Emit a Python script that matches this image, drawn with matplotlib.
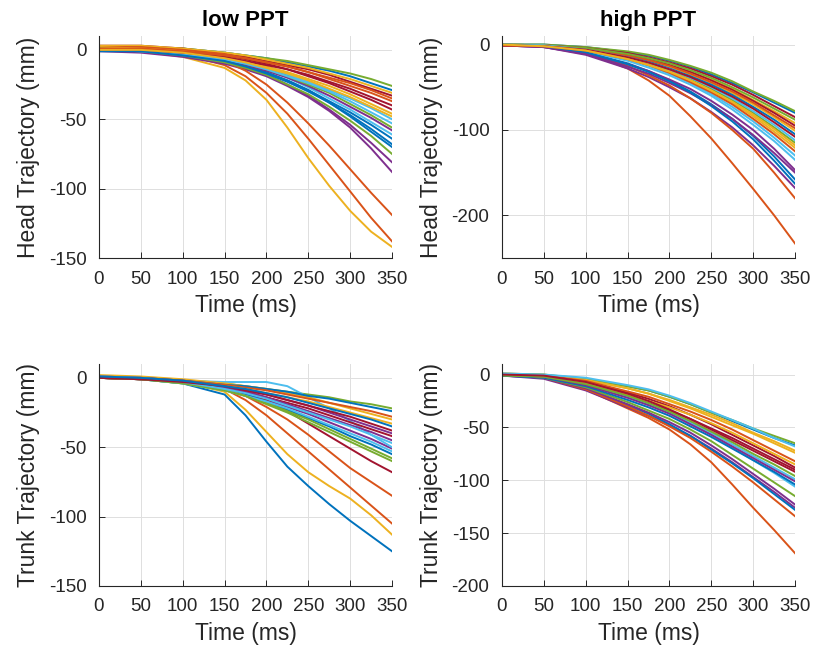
#!/usr/bin/env python3
"""Head and trunk trajectories for low and high PPT trials (2x2 panel figure)."""

import matplotlib

matplotlib.use("Agg")
import matplotlib.pyplot as plt
from cycler import cycler

# MATLAB default line colour order
LINE_COLORS = ["#0072BD", "#D95319", "#EDB120", "#7E2F8E", "#77AC30", "#4DBEEE", "#A2142F"]
TEXT_COLOR = "#262626"

TIME_MS = [0, 50, 100, 150, 175, 200, 225, 250, 275, 300, 325, 350]

# one row per trial, values in mm at TIME_MS
HEAD_LOW = [
    [2, 2, 1, -2, -4, -6, -9, -12, -15, -19, -24, -29],
    [1, 0, -3, -11, -19, -31, -46, -64, -83, -102, -121, -138],
    [0, -1, -5, -13, -22, -36, -56, -78, -98, -116, -131, -142],
    [-1, -2, -5, -10, -14, -19, -26, -34, -44, -56, -71, -88],
    [2, 2, 1, -2, -4, -6, -8, -11, -14, -17, -21, -26],
    [1, 0, -2, -6, -9, -13, -18, -23, -29, -35, -42, -50],
    [3, 3, 1, -3, -5, -8, -11, -14, -18, -23, -28, -33],
    [0, -1, -3, -8, -12, -17, -22, -29, -37, -45, -54, -64],
    [1, 0, -3, -8, -15, -25, -38, -53, -69, -86, -103, -119],
    [3, 3, 1, -2, -4, -7, -10, -13, -17, -21, -26, -31],
    [0, -1, -4, -9, -13, -18, -25, -33, -43, -54, -67, -81],
    [0, -1, -4, -9, -13, -18, -25, -32, -41, -51, -62, -75],
    [1, 0, -2, -6, -10, -14, -20, -27, -35, -43, -52, -61],
    [1, 1, -1, -4, -7, -10, -14, -19, -24, -30, -36, -43],
    [1, 0, -3, -7, -11, -16, -22, -29, -38, -48, -59, -70],
    [2, 2, 0, -3, -6, -9, -12, -16, -21, -26, -31, -37],
    [2, 1, -1, -5, -8, -12, -16, -21, -26, -32, -39, -46],
    [0, -1, -3, -7, -11, -15, -20, -26, -33, -41, -49, -58],
    [1, 0, -2, -6, -10, -14, -19, -25, -31, -39, -47, -56],
    [0, -1, -3, -7, -10, -14, -19, -24, -30, -37, -45, -53],
    [0, 0, -2, -5, -8, -11, -14, -18, -23, -28, -34, -40],
    [-1, -1, -4, -8, -12, -17, -23, -30, -38, -47, -57, -68],
    [1, 1, -1, -4, -6, -9, -12, -16, -20, -24, -29, -35],
    [0, 0, -2, -6, -9, -13, -17, -22, -28, -34, -41, -48],
]

HEAD_HIGH = [
    [0, 0, -3, -9, -13, -19, -26, -35, -45, -56, -68, -80],
    [0, -2, -9, -28, -42, -60, -84, -110, -139, -169, -200, -233],
    [0, -1, -5, -12, -17, -24, -32, -41, -52, -65, -78, -92],
    [-1, -3, -12, -28, -38, -50, -63, -79, -97, -118, -142, -168],
    [0, 0, -3, -8, -12, -18, -25, -33, -43, -55, -66, -78],
    [0, -1, -7, -17, -25, -34, -45, -58, -73, -90, -109, -130],
    [-1, -1, -4, -10, -15, -21, -28, -37, -47, -59, -72, -85],
    [0, -2, -9, -22, -31, -42, -55, -70, -87, -107, -131, -158],
    [0, -2, -10, -25, -36, -48, -63, -80, -100, -122, -150, -180],
    [0, -1, -5, -13, -19, -26, -35, -45, -57, -70, -85, -101],
    [-1, -3, -11, -26, -34, -45, -57, -71, -87, -106, -127, -150],
    [0, -1, -6, -15, -22, -30, -40, -52, -65, -80, -97, -115],
    [0, -2, -8, -19, -27, -36, -47, -60, -76, -94, -113, -135],
    [-1, -1, -5, -12, -17, -24, -32, -42, -53, -66, -80, -95],
    [0, -1, -6, -14, -20, -28, -37, -47, -59, -73, -88, -105],
    [0, -1, -5, -13, -18, -25, -34, -44, -55, -68, -83, -98],
    [0, -1, -6, -16, -23, -31, -42, -54, -68, -84, -102, -121],
    [-1, -3, -10, -23, -31, -41, -52, -66, -82, -100, -122, -147],
    [0, -1, -4, -11, -16, -22, -30, -39, -50, -62, -75, -88],
    [0, -1, -6, -15, -21, -29, -39, -50, -63, -78, -94, -112],
    [-1, -2, -6, -15, -21, -29, -38, -49, -61, -75, -91, -108],
    [0, -2, -9, -23, -32, -43, -56, -72, -90, -111, -136, -163],
    [-1, -2, -7, -17, -24, -33, -44, -56, -70, -87, -105, -125],
    [0, -2, -7, -17, -24, -32, -42, -54, -67, -82, -99, -118],
]

TRUNK_LOW = [
    [0, -1, -4, -12, -27, -46, -64, -78, -91, -103, -114, -125],
    [1, 0, -3, -8, -16, -27, -40, -53, -66, -79, -92, -105],
    [1, 0, -3, -10, -23, -39, -55, -68, -78, -87, -99, -113],
    [0, -1, -3, -7, -11, -16, -21, -26, -32, -38, -44, -51],
    [1, 0, -2, -4, -6, -8, -10, -12, -14, -17, -19, -22],
    [1, 0, -2, -3, -3, -3, -6, -14, -22, -31, -41, -50],
    [0, -1, -3, -7, -11, -16, -24, -33, -42, -51, -60, -68],
    [1, 0, -3, -8, -12, -17, -23, -29, -35, -42, -48, -55],
    [0, -1, -3, -8, -13, -21, -30, -41, -53, -65, -75, -85],
    [2, 1, -1, -4, -6, -8, -11, -14, -18, -22, -26, -30],
    [1, 0, -2, -6, -9, -12, -16, -20, -25, -30, -35, -40],
    [0, -1, -4, -9, -13, -18, -24, -30, -37, -44, -51, -58],
    [0, -1, -4, -9, -13, -17, -22, -28, -34, -40, -46, -53],
    [0, -1, -3, -7, -10, -14, -18, -22, -27, -32, -37, -42],
    [0, 0, -2, -5, -6, -8, -10, -13, -15, -18, -21, -24],
    [1, 0, -2, -5, -7, -9, -12, -15, -18, -21, -24, -28],
    [0, -1, -3, -6, -8, -11, -14, -17, -21, -25, -29, -33],
    [0, -1, -3, -7, -10, -14, -19, -24, -29, -34, -39, -45],
    [0, -1, -4, -9, -13, -19, -25, -32, -39, -46, -53, -60],
    [1, 0, -3, -8, -11, -15, -20, -25, -30, -35, -41, -47],
    [0, -1, -3, -6, -9, -12, -16, -20, -24, -28, -33, -38],
    [1, 0, -2, -6, -8, -11, -14, -18, -22, -26, -30, -35],
]

TRUNK_HIGH = [
    [0, -1, -4, -11, -15, -21, -28, -36, -44, -52, -60, -67],
    [0, -3, -14, -32, -41, -52, -66, -83, -104, -126, -147, -169],
    [1, 0, -5, -13, -18, -25, -32, -40, -48, -56, -65, -74],
    [-1, -4, -15, -31, -39, -48, -58, -70, -83, -97, -111, -126],
    [1, 0, -4, -11, -15, -21, -28, -36, -43, -51, -58, -65],
    [0, -2, -9, -20, -28, -36, -46, -57, -69, -81, -93, -106],
    [-1, -2, -9, -21, -27, -34, -42, -51, -60, -70, -80, -90],
    [0, -3, -13, -29, -37, -47, -58, -71, -84, -98, -113, -128],
    [0, -3, -14, -30, -39, -49, -60, -73, -87, -102, -118, -134],
    [0, -1, -5, -13, -18, -24, -31, -38, -46, -55, -63, -72],
    [-1, -3, -13, -28, -36, -45, -55, -67, -80, -94, -108, -123],
    [0, -3, -12, -26, -34, -42, -52, -63, -76, -89, -102, -115],
    [0, -2, -9, -21, -28, -36, -45, -55, -66, -77, -88, -99],
    [0, -1, -7, -17, -23, -30, -38, -47, -57, -67, -77, -88],
    [-1, -3, -11, -24, -31, -39, -49, -59, -70, -81, -92, -104],
    [0, -1, -6, -16, -21, -28, -35, -43, -52, -62, -72, -82],
    [0, -2, -8, -19, -25, -31, -38, -46, -55, -65, -75, -85],
    [0, -2, -10, -22, -29, -37, -47, -57, -68, -79, -90, -101],
    [-1, -2, -9, -20, -27, -35, -44, -54, -64, -75, -85, -96],
    [1, 0, -3, -10, -14, -20, -27, -35, -43, -51, -60, -68],
    [0, -1, -7, -18, -25, -33, -42, -52, -62, -72, -82, -92],
]

PANELS = [
    # (data, title, ylabel, ylim, yticks, axes rect in figure fractions)
    (HEAD_LOW, "low PPT", "Head Trajectory (mm)", (-150, 10), [-150, -100, -50, 0],
     [0.1216, 0.6073, 0.3600, 0.3379]),
    (HEAD_HIGH, "high PPT", "Head Trajectory (mm)", (-250, 10), [-200, -100, 0],
     [0.6167, 0.6073, 0.3600, 0.3379]),
    (TRUNK_LOW, None, "Trunk Trajectory (mm)", (-150, 10), [-150, -100, -50, 0],
     [0.1216, 0.1081, 0.3600, 0.3379]),
    (TRUNK_HIGH, None, "Trunk Trajectory (mm)", (-200, 10), [-200, -150, -100, -50, 0],
     [0.6167, 0.1081, 0.3600, 0.3379]),
]


def style_axes(ax, ylim, yticks):
    ax.set_xlim(0, 350)
    ax.set_ylim(*ylim)
    ax.set_xticks(range(0, 351, 50))
    ax.set_yticks(yticks)
    ax.grid(True, color="#dedede", linewidth=0.7)
    ax.set_axisbelow(True)
    for side in ("top", "right"):
        ax.spines[side].set_visible(False)
    for side in ("left", "bottom"):
        ax.spines[side].set_color(TEXT_COLOR)
        ax.spines[side].set_linewidth(0.8)
    ax.tick_params(direction="in", length=4, width=0.7, colors=TEXT_COLOR,
                   labelsize=13.5, pad=9)


def main():
    plt.rcParams["font.family"] = ["Liberation Sans", "DejaVu Sans"]
    plt.rcParams["axes.unicode_minus"] = False

    fig = plt.figure(figsize=(8.14, 6.57), dpi=100)
    for data, title, ylabel, ylim, yticks, rect in PANELS:
        ax = fig.add_axes(rect)
        ax.set_prop_cycle(cycler(color=LINE_COLORS))
        for trial in data:
            ax.plot(TIME_MS, trial, linewidth=1.4, solid_joinstyle="round")
        style_axes(ax, ylim, yticks)
        ax.set_xlabel("Time (ms)", fontsize=16.5, color=TEXT_COLOR, labelpad=5)
        ax.set_ylabel(ylabel, fontsize=16.5, color=TEXT_COLOR, labelpad=6)
        if title:
            ax.set_title(title, fontsize=16, fontweight="bold", color="black", pad=7)

    fig.savefig("out.png", dpi=100)
    plt.close(fig)


if __name__ == "__main__":
    main()
